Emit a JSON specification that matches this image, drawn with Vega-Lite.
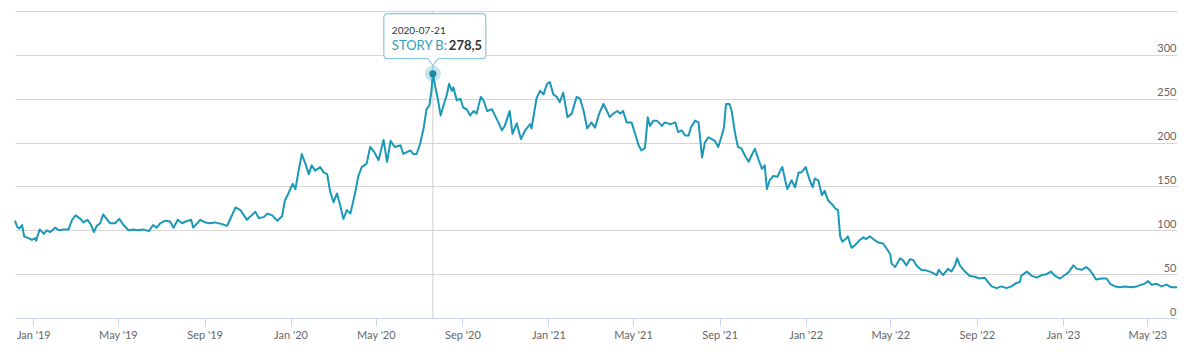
{
  "$schema": "https://vega.github.io/schema/vega-lite/v6.json",
  "width": 1162,
  "height": 307,
  "autosize": {"type": "none"},
  "padding": {"left": 15, "top": 11, "right": 23, "bottom": 37},
  "background": "white",
  "config": {
    "view": {"stroke": null},
    "font": "Lato",
    "locale": {"number": {"decimal": ",", "thousands": ".", "grouping": [3], "currency": ["", " €"]}}
  },
  "datasets": {
    "series": [
      {"date":"2018-12-06","value":111},{"date":"2018-12-09","value":104},{"date":"2018-12-12","value":102},{"date":"2018-12-16","value":106},{"date":"2018-12-19","value":93},{"date":"2018-12-25","value":91},{"date":"2018-12-30","value":89},
      {"date":"2019-01-04","value":91},{"date":"2019-01-05","value":88},{"date":"2019-01-10","value":101},{"date":"2019-01-16","value":96},{"date":"2019-01-20","value":100},{"date":"2019-01-25","value":98},
      {"date":"2019-02-01","value":103},{"date":"2019-02-06","value":100},{"date":"2019-02-13","value":101},{"date":"2019-02-20","value":101},{"date":"2019-02-25","value":112},
      {"date":"2019-03-02","value":117},{"date":"2019-03-09","value":113},{"date":"2019-03-13","value":109},{"date":"2019-03-19","value":112},{"date":"2019-03-24","value":106},{"date":"2019-03-28","value":98},
      {"date":"2019-04-01","value":105},{"date":"2019-04-06","value":108},{"date":"2019-04-10","value":118},{"date":"2019-04-15","value":113},{"date":"2019-04-20","value":108},{"date":"2019-04-27","value":108},
      {"date":"2019-05-03","value":113},{"date":"2019-05-09","value":106},{"date":"2019-05-16","value":100},{"date":"2019-05-23","value":101},{"date":"2019-05-30","value":100},
      {"date":"2019-06-06","value":101},{"date":"2019-06-14","value":99},{"date":"2019-06-20","value":106},{"date":"2019-06-25","value":103},{"date":"2019-06-30","value":108},
      {"date":"2019-07-07","value":111},{"date":"2019-07-14","value":110},{"date":"2019-07-19","value":103},{"date":"2019-07-25","value":112},{"date":"2019-07-31","value":108},
      {"date":"2019-08-05","value":110},{"date":"2019-08-13","value":112},{"date":"2019-08-16","value":103},{"date":"2019-08-26","value":112},
      {"date":"2019-09-02","value":109},{"date":"2019-09-09","value":108},{"date":"2019-09-16","value":109},{"date":"2019-09-26","value":107},
      {"date":"2019-10-03","value":105},{"date":"2019-10-07","value":112},{"date":"2019-10-15","value":126},{"date":"2019-10-22","value":123},{"date":"2019-10-31","value":112},
      {"date":"2019-11-12","value":121},{"date":"2019-11-17","value":114},{"date":"2019-11-24","value":115},{"date":"2019-11-29","value":119},
      {"date":"2019-12-06","value":117},{"date":"2019-12-13","value":111},{"date":"2019-12-20","value":116},{"date":"2019-12-24","value":134},{"date":"2019-12-29","value":142},
      {"date":"2020-01-04","value":153},{"date":"2020-01-08","value":147},{"date":"2020-01-12","value":166},{"date":"2020-01-17","value":187},{"date":"2020-01-22","value":176},{"date":"2020-01-27","value":164},{"date":"2020-01-31","value":174},
      {"date":"2020-02-05","value":168},{"date":"2020-02-12","value":172},{"date":"2020-02-17","value":166},{"date":"2020-02-22","value":164},{"date":"2020-02-26","value":145},
      {"date":"2020-03-02","value":132},{"date":"2020-03-07","value":142},{"date":"2020-03-11","value":130},{"date":"2020-03-16","value":113},{"date":"2020-03-21","value":123},{"date":"2020-03-26","value":119},
      {"date":"2020-04-02","value":144},{"date":"2020-04-06","value":161},{"date":"2020-04-11","value":172},{"date":"2020-04-18","value":176},{"date":"2020-04-23","value":195},{"date":"2020-04-29","value":189},
      {"date":"2020-05-05","value":180},{"date":"2020-05-12","value":203},{"date":"2020-05-17","value":178},{"date":"2020-05-22","value":202},{"date":"2020-05-28","value":195},
      {"date":"2020-06-05","value":197},{"date":"2020-06-09","value":187},{"date":"2020-06-14","value":189},{"date":"2020-06-19","value":191},{"date":"2020-06-23","value":187},{"date":"2020-06-28","value":187},
      {"date":"2020-07-03","value":199},{"date":"2020-07-08","value":217},{"date":"2020-07-12","value":238},{"date":"2020-07-16","value":242},{"date":"2020-07-19","value":259},{"date":"2020-07-21","value":278.5},{"date":"2020-07-25","value":261},{"date":"2020-07-28","value":250},
      {"date":"2020-08-01","value":231},{"date":"2020-08-05","value":242},{"date":"2020-08-10","value":255},{"date":"2020-08-13","value":267},{"date":"2020-08-17","value":259},{"date":"2020-08-19","value":263},{"date":"2020-08-24","value":248},{"date":"2020-08-29","value":250},
      {"date":"2020-09-02","value":240},{"date":"2020-09-07","value":238},{"date":"2020-09-12","value":231},{"date":"2020-09-17","value":236},{"date":"2020-09-21","value":233},{"date":"2020-09-27","value":252},
      {"date":"2020-10-01","value":248},{"date":"2020-10-06","value":236},{"date":"2020-10-13","value":238},{"date":"2020-10-17","value":231},{"date":"2020-10-22","value":223},{"date":"2020-10-27","value":214},{"date":"2020-10-31","value":219},
      {"date":"2020-11-07","value":236},{"date":"2020-11-11","value":210},{"date":"2020-11-17","value":222},{"date":"2020-11-23","value":204},{"date":"2020-11-29","value":214},
      {"date":"2020-12-06","value":221},{"date":"2020-12-08","value":216},{"date":"2020-12-15","value":250},{"date":"2020-12-20","value":259},{"date":"2020-12-25","value":255},{"date":"2020-12-30","value":267},
      {"date":"2021-01-03","value":269},{"date":"2021-01-08","value":255},{"date":"2021-01-13","value":252},{"date":"2021-01-17","value":246},{"date":"2021-01-22","value":257},{"date":"2021-01-28","value":229},
      {"date":"2021-02-03","value":233},{"date":"2021-02-10","value":252},{"date":"2021-02-15","value":250},{"date":"2021-02-20","value":236},{"date":"2021-02-25","value":216},
      {"date":"2021-03-03","value":223},{"date":"2021-03-08","value":217},{"date":"2021-03-14","value":233},{"date":"2021-03-20","value":244},{"date":"2021-03-25","value":236},{"date":"2021-03-29","value":229},
      {"date":"2021-04-03","value":233},{"date":"2021-04-09","value":236},{"date":"2021-04-13","value":233},{"date":"2021-04-17","value":236},{"date":"2021-04-22","value":223},{"date":"2021-04-29","value":223},
      {"date":"2021-05-04","value":210},{"date":"2021-05-09","value":197},{"date":"2021-05-13","value":191},{"date":"2021-05-18","value":194},{"date":"2021-05-22","value":229},{"date":"2021-05-25","value":219},{"date":"2021-05-30","value":225},
      {"date":"2021-06-04","value":225},{"date":"2021-06-11","value":219},{"date":"2021-06-15","value":223},{"date":"2021-06-23","value":221},{"date":"2021-06-30","value":223},
      {"date":"2021-07-04","value":212},{"date":"2021-07-09","value":214},{"date":"2021-07-14","value":208},{"date":"2021-07-19","value":208},{"date":"2021-07-22","value":217},{"date":"2021-07-28","value":225},
      {"date":"2021-08-02","value":223},{"date":"2021-08-07","value":183},{"date":"2021-08-11","value":200},{"date":"2021-08-16","value":206},{"date":"2021-08-21","value":204},{"date":"2021-08-25","value":202},{"date":"2021-08-30","value":195},
      {"date":"2021-09-04","value":208},{"date":"2021-09-07","value":217},{"date":"2021-09-10","value":244},{"date":"2021-09-15","value":244},{"date":"2021-09-18","value":236},{"date":"2021-09-23","value":210},{"date":"2021-09-27","value":195},
      {"date":"2021-10-02","value":193},{"date":"2021-10-07","value":185},{"date":"2021-10-12","value":178},{"date":"2021-10-16","value":185},{"date":"2021-10-21","value":193},{"date":"2021-10-26","value":181},{"date":"2021-10-31","value":170},
      {"date":"2021-11-04","value":174},{"date":"2021-11-07","value":147},{"date":"2021-11-11","value":157},{"date":"2021-11-16","value":162},{"date":"2021-11-22","value":161},{"date":"2021-11-26","value":168},{"date":"2021-11-29","value":172},
      {"date":"2021-12-03","value":157},{"date":"2021-12-06","value":147},{"date":"2021-12-12","value":157},{"date":"2021-12-17","value":149},{"date":"2021-12-22","value":166},{"date":"2021-12-26","value":166},
      {"date":"2022-01-01","value":172},{"date":"2022-01-06","value":159},{"date":"2022-01-11","value":149},{"date":"2022-01-14","value":159},{"date":"2022-01-19","value":157},{"date":"2022-01-24","value":140},{"date":"2022-01-28","value":145},
      {"date":"2022-02-02","value":134},{"date":"2022-02-07","value":130},{"date":"2022-02-12","value":125},{"date":"2022-02-16","value":123},{"date":"2022-02-19","value":93},{"date":"2022-02-22","value":87},{"date":"2022-02-28","value":91},
      {"date":"2022-03-02","value":93},{"date":"2022-03-07","value":80},{"date":"2022-03-12","value":83},{"date":"2022-03-19","value":89},{"date":"2022-03-24","value":92},{"date":"2022-03-28","value":90},
      {"date":"2022-04-02","value":93},{"date":"2022-04-07","value":90},{"date":"2022-04-14","value":86},{"date":"2022-04-21","value":85},{"date":"2022-04-26","value":79},
      {"date":"2022-05-01","value":73},{"date":"2022-05-03","value":62},{"date":"2022-05-08","value":58},{"date":"2022-05-15","value":68},{"date":"2022-05-19","value":66},{"date":"2022-05-24","value":60},{"date":"2022-05-29","value":67},
      {"date":"2022-06-03","value":66},{"date":"2022-06-07","value":60},{"date":"2022-06-14","value":55},{"date":"2022-06-22","value":54},{"date":"2022-06-29","value":52},
      {"date":"2022-07-06","value":49},{"date":"2022-07-09","value":55},{"date":"2022-07-15","value":49},{"date":"2022-07-22","value":56},{"date":"2022-07-27","value":53},
      {"date":"2022-08-01","value":60},{"date":"2022-08-04","value":68},{"date":"2022-08-08","value":60},{"date":"2022-08-15","value":53},{"date":"2022-08-22","value":48},{"date":"2022-08-29","value":47},
      {"date":"2022-09-05","value":45},{"date":"2022-09-12","value":46},{"date":"2022-09-17","value":41},{"date":"2022-09-22","value":36},{"date":"2022-09-29","value":34},
      {"date":"2022-10-06","value":36},{"date":"2022-10-13","value":34},{"date":"2022-10-20","value":36},{"date":"2022-10-27","value":40},
      {"date":"2022-11-01","value":41},{"date":"2022-11-03","value":48},{"date":"2022-11-11","value":53},{"date":"2022-11-18","value":48},{"date":"2022-11-25","value":46},
      {"date":"2022-12-02","value":49},{"date":"2022-12-09","value":50},{"date":"2022-12-15","value":53},{"date":"2022-12-21","value":48},{"date":"2022-12-28","value":45},
      {"date":"2023-01-04","value":49},{"date":"2023-01-09","value":52},{"date":"2023-01-16","value":60},{"date":"2023-01-21","value":56},{"date":"2023-01-28","value":55},
      {"date":"2023-02-03","value":58},{"date":"2023-02-08","value":55},{"date":"2023-02-14","value":48},{"date":"2023-02-17","value":44},{"date":"2023-02-25","value":45},
      {"date":"2023-03-04","value":45},{"date":"2023-03-09","value":39},{"date":"2023-03-16","value":36},{"date":"2023-03-23","value":35},{"date":"2023-03-30","value":36},
      {"date":"2023-04-08","value":35},{"date":"2023-04-16","value":36},{"date":"2023-04-23","value":38},{"date":"2023-04-27","value":39},
      {"date":"2023-05-02","value":42},{"date":"2023-05-07","value":38},{"date":"2023-05-14","value":39},{"date":"2023-05-21","value":36},{"date":"2023-05-28","value":38},
      {"date":"2023-06-04","value":35},{"date":"2023-06-12","value":35}
    ],
    "hover": [{"date": "2020-07-21", "day": "2020-07-21", "value": 278.5, "series": "STORY B"}]
  },
  "layer": [
    {
      "data": {"name": "hover"},
      "mark": {"type": "rule", "color": "#cccccc", "strokeWidth": 1},
      "encoding": {
        "x": {"field": "date", "type": "temporal"}
      }
    },
    {
      "data": {"name": "series"},
      "mark": {"type": "line", "color": "#1b98b8", "strokeWidth": 2, "strokeJoin": "round"},
      "encoding": {
        "x": {
          "field": "date", "type": "temporal",
          "scale": {"type": "utc", "domain": ["2018-12-06", "2023-06-12"], "nice": false},
          "axis": {
            "title": null, "grid": false, "zindex": 1,
            "tickCount": {"interval": "month", "step": 4},
            "labelExpr": "utcFormat(datum.value, \"%b '%y\")",
            "labelFlush": false, "labelOverlap": false,
            "domainColor": "#ccd6eb", "tickColor": "#ccd6eb", "tickSize": 8,
            "labelPadding": 3, "labelFontSize": 11, "labelColor": "#666666"
          }
        },
        "y": {
          "field": "value", "type": "quantitative",
          "scale": {"domain": [0, 350], "nice": false},
          "axis": {
            "title": null, "orient": "right",
            "values": [0, 50, 100, 150, 200, 250, 300, 350],
            "labelExpr": "datum.value < 350 ? datum.label : ''",
            "domain": false, "ticks": false, "tickSize": 0,
            "labelAlign": "right", "labelBaseline": "alphabetic",
            "labelPadding": -1, "labelOffset": -3,
            "gridColor": "#d6d6d6", "gridWidth": 1,
            "labelFontSize": 11, "labelColor": "#666666"
          }
        }
      }
    },
    {
      "data": {"name": "hover"},
      "mark": {"type": "point", "shape": "circle", "filled": true, "size": 254, "color": "#1b98b8", "opacity": 0.25},
      "encoding": {
        "x": {"field": "date", "type": "temporal"},
        "y": {"field": "value", "type": "quantitative"}
      }
    },
    {
      "data": {"name": "hover"},
      "mark": {"type": "point", "shape": "circle", "filled": true, "size": 50, "color": "#1a85a4", "opacity": 1},
      "encoding": {
        "x": {"field": "date", "type": "temporal"},
        "y": {"field": "value", "type": "quantitative"}
      }
    },
    {
      "data": {"name": "hover"},
      "mark": {
        "type": "point", "filled": true, "size": 4, "opacity": 1,
        "shape": "M-46,-60 L50,-60 Q53,-60 53,-57 L53,-18 Q53,-15 50,-15 L5,-15 L0,-8 L-5,-15 L-46,-15 Q-49,-15 -49,-18 L-49,-57 Q-49,-60 -46,-60 Z",
        "fill": "#ffffff", "fillOpacity": 0.95, "stroke": "#6cbdd6", "strokeWidth": 1
      },
      "encoding": {
        "x": {"field": "date", "type": "temporal"},
        "y": {"field": "value", "type": "quantitative"}
      }
    },
    {
      "data": {"name": "hover"},
      "mark": {"type": "text", "align": "left", "baseline": "middle", "dx": -41, "dy": -43, "fontSize": 10, "color": "#333333"},
      "encoding": {
        "x": {"field": "date", "type": "temporal"},
        "y": {"field": "value", "type": "quantitative"},
        "text": {"field": "day", "type": "nominal"}
      }
    },
    {
      "data": {"name": "hover"},
      "mark": {"type": "text", "align": "left", "baseline": "middle", "dx": -41, "dy": -28, "fontSize": 13, "color": "#2f9fc2", "text": {"expr": "datum.series + ':'"}},
      "encoding": {
        "x": {"field": "date", "type": "temporal"},
        "y": {"field": "value", "type": "quantitative"}
      }
    },
    {
      "data": {"name": "hover"},
      "mark": {"type": "text", "align": "left", "baseline": "middle", "dx": 16, "dy": -28, "fontSize": 13, "fontWeight": "bold", "color": "#333333"},
      "encoding": {
        "x": {"field": "date", "type": "temporal"},
        "y": {"field": "value", "type": "quantitative"},
        "text": {"field": "value", "type": "quantitative", "format": ".1f"}
      }
    }
  ]
}
